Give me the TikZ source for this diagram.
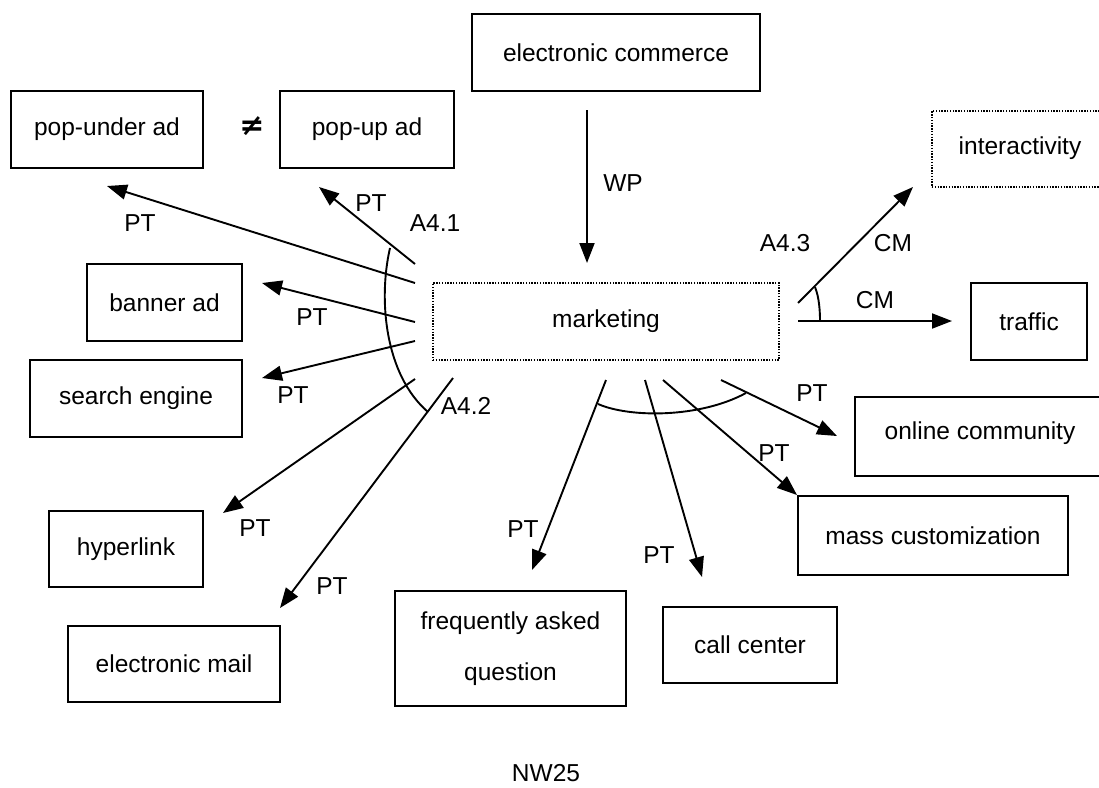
\documentclass[tikz,border=0pt]{standalone}
\usepackage{fontspec}
\setmainfont{Liberation Sans}
\newfontfamily\symfont{DejaVu Sans}
\usetikzlibrary{arrows.meta}
\begin{document}
\begin{tikzpicture}[x=1pt,y=-1pt,
  every node/.style={font=\fontsize{24.5}{30}\selectfont, inner sep=0pt},
  box/.style={draw, line width=2pt, rectangle, align=center},
  dotbox/.style={draw, line width=1.4pt, dash pattern=on 1.4pt off 1.4pt, rectangle},
  link/.style={line width=1.9pt, -{Triangle[length=20pt,width=15pt]}},
  arcline/.style={line width=1.9pt},
  lbl/.style={}
]
\useasboundingbox (0,0) rectangle (1099,787);

% concept boxes
\node[box, minimum width=288pt, minimum height=77pt] (ec) at (616,52.5) {electronic commerce};
\node[box, minimum width=192pt, minimum height=77pt] (popunder) at (107,129.5) {pop-under ad};
\node[box, minimum width=174pt, minimum height=77pt] (popup) at (367,129.5) {pop-up ad};
\node (neq) at (252,126) {\symfont\bfseries\fontsize{30}{30}\selectfont ≠};
\node[dotbox, minimum width=346pt, minimum height=77pt] (mkt) at (606,321.5) {marketing};
\node[box, minimum width=116pt, minimum height=77pt] (traffic) at (1029,321.5) {traffic};
\node[box, minimum width=155pt, minimum height=77pt] (banner) at (164.5,302.5) {banner ad};
\node[box, minimum width=212pt, minimum height=77pt] (search) at (136,398.5) {search engine};
\node[box, minimum width=154pt, minimum height=76pt] (hyper) at (126,549) {hyperlink};
\node[box, minimum width=212pt, minimum height=76pt] (email) at (174,664) {electronic mail};
\node[box, minimum width=231pt, minimum height=115pt, font=\fontsize{24.5}{51}\selectfont] (faq) at (510.5,648.5) {frequently asked\\question};
\node[box, minimum width=174pt, minimum height=76pt] (call) at (750,645) {call center};
\node[box, minimum width=270pt, minimum height=79pt] (mass) at (933,535.5) {mass customization};

% boxes running off the right edge
\begin{scope}
\clip (0,0) rectangle (1099,787);
\node[dotbox, minimum width=190pt, minimum height=76pt] (inter) at (1027,149) {};
\node[box, minimum width=260pt, minimum height=79pt] (online) at (985,436.5) {};
\end{scope}
\node at (1020,148) {interactivity};
\node at (980,433) {online community};

% connector end points
\coordinate (wpS) at (587,110);   \coordinate (wpT) at (587,263);
\coordinate (puS) at (415,283);   \coordinate (puT) at (107,186);
\coordinate (ppS) at (415,264);   \coordinate (ppT) at (319,187);
\coordinate (baS) at (415,322);   \coordinate (baT) at (262,283);
\coordinate (seS) at (415,341);   \coordinate (seT) at (262,378);
\coordinate (hyS) at (415,379);   \coordinate (hyT) at (223,513);
\coordinate (emS) at (453,378);   \coordinate (emT) at (280,608);
\coordinate (faS) at (606,380);   \coordinate (faT) at (532,570);
\coordinate (ccS) at (645,380);   \coordinate (ccT) at (702,577);
\coordinate (maS) at (663,380);   \coordinate (maT) at (797,495);
\coordinate (onS) at (721,380);   \coordinate (onT) at (837,436);
\coordinate (inS) at (798,303);   \coordinate (inT) at (913,187);
\coordinate (trS) at (798,321);   \coordinate (trT) at (952,321);

% relations
\draw[link] (wpS) -- (wpT);
\draw[link] (puS) -- (puT);
\draw[link] (ppS) -- (ppT);
\draw[link] (baS) -- (baT);
\draw[link] (seS) -- (seT);
\draw[link] (hyS) -- (hyT);
\draw[link] (emS) -- (emT);
\draw[link] (faS) -- (faT);
\draw[link] (ccS) -- (ccT);
\draw[link] (maS) -- (maT);
\draw[link] (onS) -- (onT);
\draw[link] (inS) -- (inT);
\draw[link] (trS) -- (trT);

% grouping arcs
\coordinate (a1S) at (390,248); \coordinate (a1T) at (428,412);
\draw[arcline] (a1S) .. controls (378,300) and (385,375) .. (a1T);
\coordinate (a2S) at (598,404); \coordinate (a2T) at (746,393);
\draw[arcline] (a2S) .. controls (630,418) and (700,418) .. (a2T);
\coordinate (a3S) at (815,287); \coordinate (a3T) at (820,321);
\draw[arcline] (a3S) .. controls (819,297) and (820,310) .. (a3T);

% labels
\node[lbl] at (623,183) {WP};
\node[lbl] at (140,223) {PT};
\node[lbl] at (371,203) {PT};
\node[lbl] at (435,223) {A4.1};
\node[lbl] at (312,317) {PT};
\node[lbl] at (293,395) {PT};
\node[lbl] at (255,528) {PT};
\node[lbl] at (332,586) {PT};
\node[lbl] at (466,406) {A4.2};
\node[lbl] at (523,529) {PT};
\node[lbl] at (659,555) {PT};
\node[lbl] at (774,453) {PT};
\node[lbl] at (812,393) {PT};
\node[lbl] at (785,243) {A4.3};
\node[lbl] at (893,243) {CM};
\node[lbl] at (875,300) {CM};
\node (nw) at (546,773) {NW25};
\end{tikzpicture}
\end{document}
